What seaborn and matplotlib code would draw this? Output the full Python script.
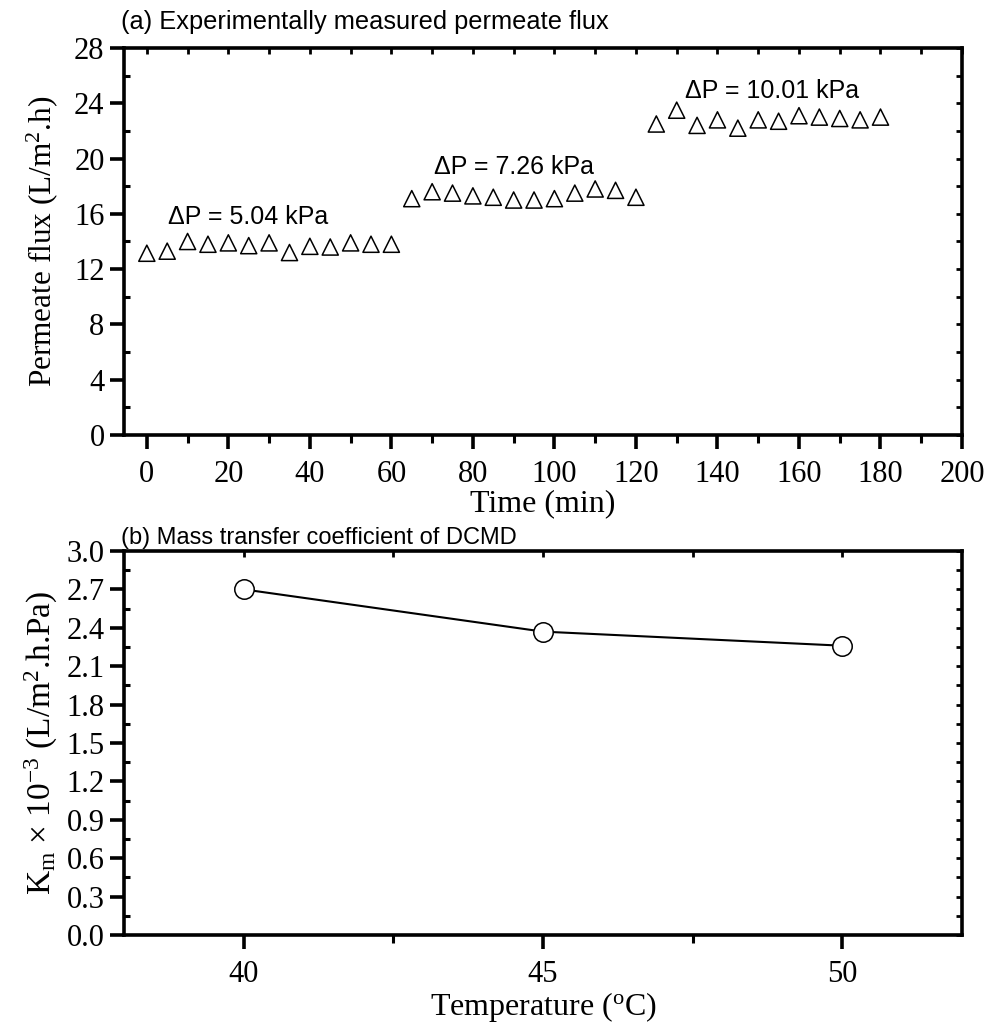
import numpy as np
import pandas as pd
import matplotlib
matplotlib.use("Agg")
import matplotlib.pyplot as plt
from matplotlib.ticker import MultipleLocator
import seaborn as sns

# ---- data ----
time_min = [0, 5, 10, 15, 20, 25, 30, 35, 40, 45, 50, 55, 60,
            65, 70, 75, 80, 85, 90, 95, 100, 105, 110, 115, 120,
            125, 130, 135, 140, 145, 150, 155, 160, 165, 170, 175, 180]
flux = [13.15, 13.3, 14.0, 13.8, 13.9, 13.7, 13.9, 13.2, 13.65, 13.6, 13.9, 13.8, 13.8,
        17.1, 17.6, 17.5, 17.3, 17.2, 17.0, 17.0, 17.1, 17.5, 17.8, 17.7, 17.2,
        22.5, 23.5, 22.4, 22.8, 22.2, 22.8, 22.7, 23.1, 23.0, 22.9, 22.8, 23.0]
dp_labels = ["\u0394P = 5.04 kPa", "\u0394P = 7.26 kPa", "\u0394P = 10.01 kPa"]
dp_label_x = [24.8, 90, 153.4]
dp_label_y = [15.8, 19.4, 24.9]

temperature = [40, 45, 50]
km = [2.70, 2.37, 2.26]

sns.set_style("ticks")
plt.rcParams["font.family"] = ["Liberation Serif", "DejaVu Serif"]
plt.rcParams["mathtext.fontset"] = "custom"
plt.rcParams["mathtext.rm"] = "Liberation Serif"
plt.rcParams["mathtext.it"] = "Liberation Serif:italic"
for key in ["text.color", "axes.labelcolor", "xtick.color", "ytick.color", "axes.edgecolor"]:
    plt.rcParams[key] = "black"

fig = plt.figure(figsize=(9.88, 10.32), dpi=100)
ax1 = fig.add_axes([0.1255, 0.5785, 0.8482, 0.375])
ax2 = fig.add_axes([0.1255, 0.0940, 0.8482, 0.3721])

df1 = pd.DataFrame({"t": time_min, "flux": flux})
sns.scatterplot(data=df1, x="t", y="flux", ax=ax1, marker="^", s=135,
                facecolor="none", edgecolor="black", linewidth=1.1, legend=False)

df2 = pd.DataFrame({"T": temperature, "km": km})
sns.lineplot(data=df2, x="T", y="km", ax=ax2, color="black", linewidth=1.5,
             marker="o", markersize=14, markerfacecolor="white",
             markeredgecolor="black", markeredgewidth=1.1)

sans = ["Liberation Sans", "DejaVu Sans"]
for x, y, s in zip(dp_label_x, dp_label_y, dp_labels):
    ax1.text(x, y, s, ha="center", va="center", fontsize=18, family=sans)

ax1.set_xlim(-5.6, 200)
ax1.set_ylim(0, 28)
ax1.xaxis.set_major_locator(MultipleLocator(20))
ax1.xaxis.set_minor_locator(MultipleLocator(10))
ax1.yaxis.set_major_locator(MultipleLocator(4))
ax1.yaxis.set_minor_locator(MultipleLocator(2))
ax1.set_xlabel("Time (min)", fontsize=23, labelpad=0)
ax1.set_ylabel("Permeate flux (L/m$^2$.h)", fontsize=22.5)
ax1.text(-0.003, 1.035, "(a) Experimentally measured permeate flux", transform=ax1.transAxes,
         fontsize=18.3, family=sans, ha="left", va="bottom")

ax2.set_xlim(38, 52)
ax2.set_ylim(0, 3.0)
ax2.xaxis.set_major_locator(MultipleLocator(5))
ax2.xaxis.set_minor_locator(MultipleLocator(2.5))
ax2.yaxis.set_minor_locator(MultipleLocator(0.15))
ax2.set_yticks(np.round(np.arange(0, 3.01, 0.3), 1))
ax2.set_yticklabels([f"{v:.1f}" for v in np.arange(0, 3.01, 0.3)])
ax2.set_xlabel("Temperature ($^{\\mathrm{o}}$C)", fontsize=23, labelpad=1)
ax2.set_ylabel("K$_\\mathrm{m}$ \u00d7 10$^{-3}$ (L/m$^2$.h.Pa)", fontsize=24)
ax2.text(-0.003, 1.005, "(b) Mass transfer coefficient of DCMD", transform=ax2.transAxes,
         fontsize=17, family=sans, ha="left", va="bottom")

for ax in (ax1, ax2):
    for sp in ax.spines.values():
        sp.set_visible(True)
        sp.set_linewidth(2.6)
        sp.set_color("black")
    ax.tick_params(which="major", direction="out", length=10, width=2.6,
                   labelsize=22, pad=4)
    ax.tick_params(which="minor", direction="out", length=6, width=2.2)
    ax.tick_params(axis="y", which="minor", direction="in", length=4, width=2.2)
    ax.tick_params(axis="x", which="major", pad=8)
    ax.tick_params(top=False, right=False, which="both")
    sec_x = ax.secondary_xaxis("top")
    sec_x.xaxis.set_major_locator(ax.xaxis.get_major_locator())
    sec_x.xaxis.set_minor_locator(ax.xaxis.get_minor_locator())
    sec_x.tick_params(which="both", direction="in", length=4, width=2.0,
                      labeltop=False)
    sec_x.spines["top"].set_visible(False)
    sec_y = ax.secondary_yaxis("right")
    sec_y.yaxis.set_major_locator(ax.yaxis.get_major_locator())
    sec_y.yaxis.set_minor_locator(ax.yaxis.get_minor_locator())
    sec_y.tick_params(which="both", direction="in", length=4, width=2.0,
                      labelright=False)
    sec_y.spines["right"].set_visible(False)

ax1.yaxis.set_label_coords(-0.076, 0.5)
ax2.yaxis.set_label_coords(-0.076, 0.5)

fig.savefig("out.png", dpi=100)
